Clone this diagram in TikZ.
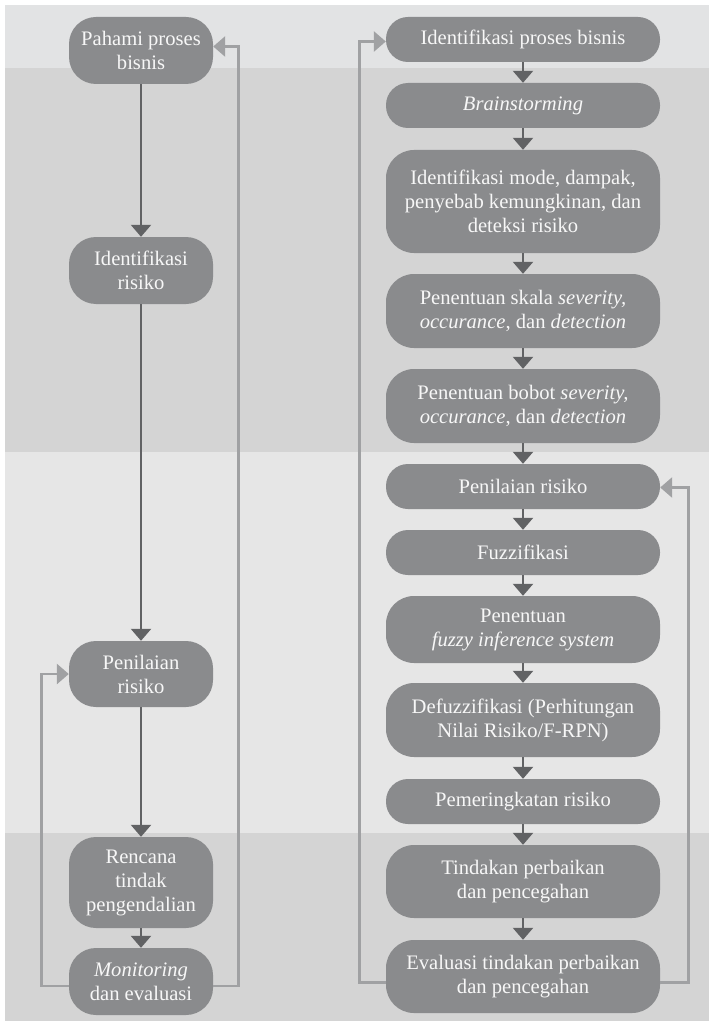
\documentclass[tikz,border=0pt]{standalone}
\usepackage{fontspec}
\setmainfont{Liberation Serif}
\usetikzlibrary{arrows.meta}
\definecolor{bandlight}{HTML}{E2E3E4}
\definecolor{banddark}{HTML}{D4D4D4}
\definecolor{bandmid}{HTML}{E6E6E6}
\definecolor{boxfill}{HTML}{8A8B8D}
\definecolor{boxtext}{HTML}{F7F7F7}
\definecolor{flowcol}{HTML}{616264}
\definecolor{backcol}{HTML}{A0A1A3}
\tikzset{
  x=1pt, y=-1pt,
  stepbox/.style={fill=boxfill, text=boxtext, align=center, inner sep=0pt,
    font=\fontsize{20.6}{24}\selectfont},
  leftbox/.style={stepbox, rounded corners=27pt, minimum width=144pt},
  rightbox/.style={stepbox, rounded corners=22pt, minimum width=274pt},
  flow/.style={draw=flowcol, line width=2.5pt, -{Triangle[width=20pt,length=12pt]}},
  back/.style={draw=backcol, line width=2.8pt, -{Triangle[width=20pt,length=12pt]}},
}
\begin{document}
\begin{tikzpicture}
\useasboundingbox (0,0) rectangle (709,1027);
% background bands
\fill[bandlight] (5,5) rectangle (709,68);
\fill[banddark] (5,68) rectangle (709,452);
\fill[bandmid] (5,452) rectangle (709,833);
\fill[banddark] (5,833) rectangle (709,1021);

% left column
\node[leftbox, minimum height=67pt] (pah) at (141,50.5) {Pahami proses\\bisnis};
\node[leftbox, minimum height=67pt] (idr) at (141,270.5) {Identifikasi\\risiko};
\node[leftbox, minimum height=66pt] (pen) at (141,674) {Penilaian\\risiko};
\node[leftbox, minimum height=91pt] (ren) at (141,882.5) {Rencana\\tindak\\pengendalian};
\node[leftbox, minimum height=67pt] (mon) at (141,981.5) {\textit{Monitoring}\\dan evaluasi};

\draw[flow] (pah) -- (idr);
\draw[flow] (idr) -- (pen);
\draw[flow] (pen) -- (ren);
\draw[flow] (ren) -- (mon);
\draw[back] ([yshift=-4.5pt]mon.east) -- ++(25,0) |- ([yshift=4pt]pah.east);
\draw[back] ([yshift=-4.5pt]mon.west) -- ++(-27,0) |- (pen.west);

% right column
\node[rightbox, minimum height=45pt] (ipb) at (523,39.5) {Identifikasi proses bisnis};
\node[rightbox, minimum height=45pt] (brs) at (523,105.5) {\textit{Brainstorming}};
\node[rightbox, minimum height=103pt, rounded corners=28pt] (imd) at (523,201.5) {Identifikasi mode, dampak,\\penyebab kemungkinan, dan\\deteksi risiko};
\node[rightbox, minimum height=74pt, rounded corners=28pt] (psk) at (523,311) {Penentuan skala \textit{severity,}\\\textit{occurance}, dan \textit{detection}};
\node[rightbox, minimum height=74pt, rounded corners=28pt] (pbb) at (523,406) {Penentuan bobot \textit{severity,}\\\textit{occurance}, dan \textit{detection}};
\node[rightbox, minimum height=45pt] (pnr) at (523,486.5) {Penilaian risiko};
\node[rightbox, minimum height=45pt] (fuz) at (523,552.5) {Fuzzifikasi};
\node[rightbox, minimum height=67pt, rounded corners=28pt] (pfi) at (523,629.5) {Penentuan\\\textit{fuzzy inference system}};
\node[rightbox, minimum height=74pt, rounded corners=28pt] (def) at (523,720) {Defuzzifikasi (Perhitungan\\Nilai Risiko/F-RPN)};
\node[rightbox, minimum height=45pt] (pem) at (523,801.5) {Pemeringkatan risiko};
\node[rightbox, minimum height=73pt, rounded corners=28pt] (tin) at (523,881.5) {Tindakan perbaikan\\dan pencegahan};
\node[rightbox, minimum height=73pt, rounded corners=28pt] (eva) at (523,976.5) {Evaluasi tindakan perbaikan\\dan pencegahan};

\draw[flow] (ipb) -- (brs);
\draw[flow] (brs) -- (imd);
\draw[flow] (imd) -- (psk);
\draw[flow] (psk) -- (pbb);
\draw[flow] (pbb) -- (pnr);
\draw[flow] (pnr) -- (fuz);
\draw[flow] (fuz) -- (pfi);
\draw[flow] (pfi) -- (def);
\draw[flow] (def) -- (pem);
\draw[flow] (pem) -- (tin);
\draw[flow] (tin) -- (eva);
\draw[back] ([yshift=-6pt]eva.west) -- ++(-26,0) |- ([yshift=-2pt]ipb.west);
\draw[back] ([yshift=-6pt]eva.east) -- ++(28,0) |- ([yshift=-1pt]pnr.east);
\end{tikzpicture}
\end{document}
